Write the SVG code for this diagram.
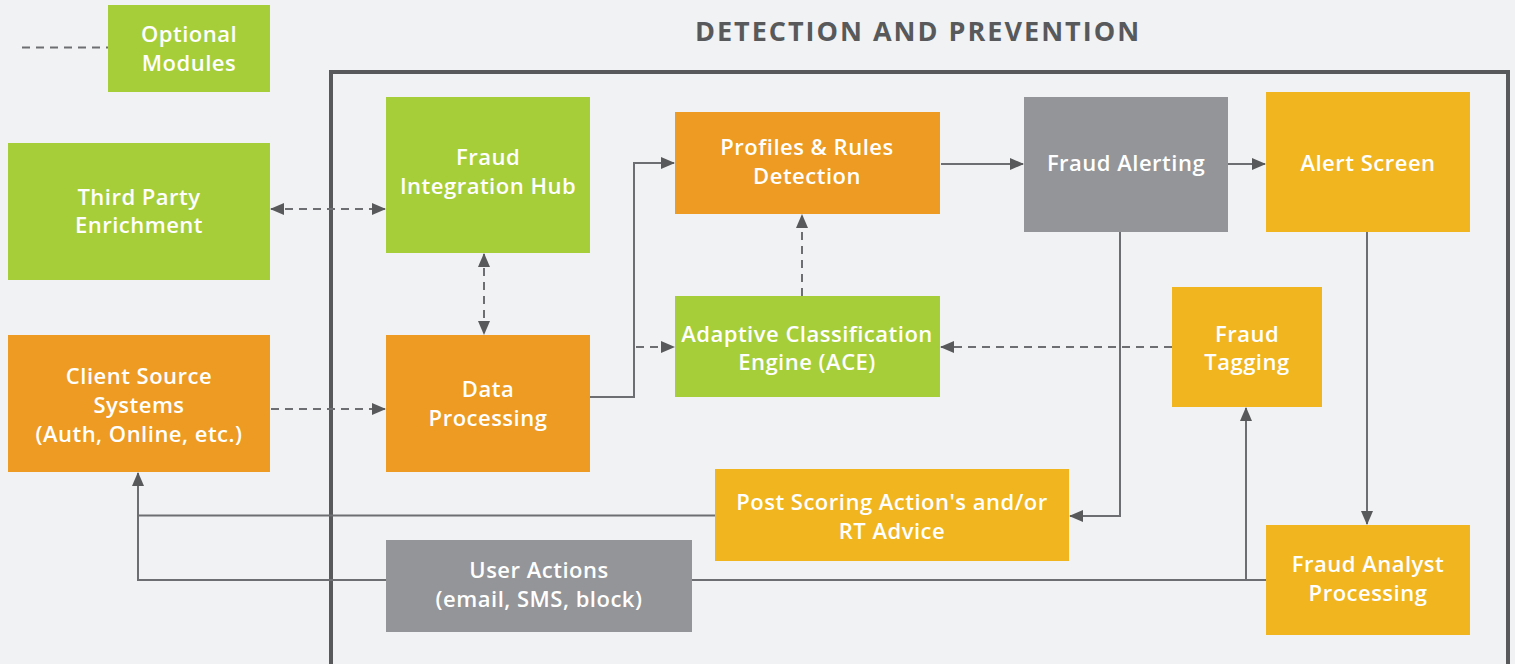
<svg xmlns="http://www.w3.org/2000/svg" width="1515" height="664" viewBox="0 0 1515 664">
<style>
.bg{fill:#f1f2f4}
.g{fill:#a6ce39}
.o{fill:#ed9b22}
.y{fill:#f0b51f}
.gr{fill:#939598}
.t{font-family:"Open Sans","Liberation Sans",sans-serif;font-size:22px;font-weight:600;fill:#ffffff;text-anchor:middle;letter-spacing:0.5px}
.title{font-family:"Open Sans","Liberation Sans",sans-serif;font-size:27px;font-weight:700;fill:#58595b;text-anchor:middle;letter-spacing:2px}
.ln{fill:none;stroke:#6d6e71;stroke-width:2}
.ds{fill:none;stroke:#6d6e71;stroke-width:2;stroke-dasharray:8 6}
.frame{fill:none;stroke:#58595b;stroke-width:4}
</style>
<defs>
<marker id="ah" viewBox="0 0 14 12" refX="13" refY="6" markerWidth="14" markerHeight="12" markerUnits="userSpaceOnUse" orient="auto-start-reverse">
<path d="M0,0 L14,6 L0,12 Z" fill="#58595b"/>
</marker>
</defs>
<rect class="bg" x="0" y="0" width="1515" height="664"/>
<text class="title" x="918" y="41">DETECTION AND PREVENTION</text>
<rect class="frame" x="331" y="72" width="1177" height="620"/>
<g id="connectors">
<line class="ds" x1="22" y1="47.5" x2="108" y2="47.5"/>
<line class="ds" x1="271" y1="209" x2="385" y2="209" marker-start="url(#ah)" marker-end="url(#ah)"/>
<line class="ds" x1="484" y1="254" x2="484" y2="334" marker-start="url(#ah)" marker-end="url(#ah)"/>
<line class="ds" x1="271" y1="409" x2="385" y2="409" marker-end="url(#ah)"/>
<polyline class="ln" points="590,397 634,397 634,163 674,163" marker-end="url(#ah)"/>
<line class="ds" x1="636" y1="347" x2="674" y2="347" marker-end="url(#ah)"/>
<line class="ds" x1="802" y1="296" x2="802" y2="215" marker-end="url(#ah)"/>
<line class="ln" x1="941" y1="164" x2="1023" y2="164" marker-end="url(#ah)"/>
<line class="ln" x1="1228" y1="164" x2="1265" y2="164" marker-end="url(#ah)"/>
<line class="ds" x1="1172" y1="347" x2="941" y2="347" marker-end="url(#ah)"/>
<polyline class="ln" points="1120,232 1120,516 1070,516" marker-end="url(#ah)"/>
<line class="ln" x1="1367" y1="232" x2="1367" y2="524" marker-end="url(#ah)"/>
<polyline class="ln" points="1266,580 1246,580 1246,408" marker-end="url(#ah)"/>
<polyline class="ln" points="1246,580 138,580 138,473" marker-end="url(#ah)"/>
<line class="ln" x1="715" y1="515.5" x2="138" y2="515.5"/>
</g>
<g id="optional-modules">
<rect class="g" x="108" y="5" width="162" height="87"/>
<text class="t" x="189" y="42">Optional</text>
<text class="t" x="189" y="71">Modules</text>
</g>
<g id="third-party">
<rect class="g" x="8" y="143" width="262" height="137"/>
<text class="t" x="139" y="205">Third Party</text>
<text class="t" x="139" y="233">Enrichment</text>
</g>
<g id="integration-hub">
<rect class="g" x="386" y="97" width="204" height="156"/>
<text class="t" x="488" y="165">Fraud</text>
<text class="t" x="488" y="194">Integration Hub</text>
</g>
<g id="client-source">
<rect class="o" x="8" y="335" width="262" height="137"/>
<text class="t" x="139" y="384">Client Source</text>
<text class="t" x="139" y="413">Systems</text>
<text class="t" x="139" y="442">(Auth, Online, etc.)</text>
</g>
<g id="data-processing">
<rect class="o" x="386" y="335" width="204" height="137"/>
<text class="t" x="488" y="397">Data</text>
<text class="t" x="488" y="426">Processing</text>
</g>
<g id="profiles-rules">
<rect class="o" x="675" y="112" width="265" height="102"/>
<text class="t" x="807" y="155">Profiles &amp; Rules</text>
<text class="t" x="807" y="184">Detection</text>
</g>
<g id="ace">
<rect class="g" x="675" y="296" width="265" height="101"/>
<text class="t" x="807" y="342">Adaptive Classification</text>
<text class="t" x="807" y="370">Engine (ACE)</text>
</g>
<g id="fraud-alerting">
<rect class="gr" x="1024" y="97" width="204" height="135"/>
<text class="t" x="1126" y="171">Fraud Alerting</text>
</g>
<g id="alert-screen">
<rect class="y" x="1266" y="92" width="204" height="140"/>
<text class="t" x="1368" y="171">Alert Screen</text>
</g>
<g id="fraud-tagging">
<rect class="y" x="1172" y="287" width="150" height="120"/>
<text class="t" x="1247" y="342">Fraud</text>
<text class="t" x="1247" y="370">Tagging</text>
</g>
<g id="post-scoring">
<rect class="y" x="715" y="469" width="354" height="92"/>
<text class="t" x="892" y="510">Post Scoring Action's and/or</text>
<text class="t" x="892" y="539">RT Advice</text>
</g>
<g id="user-actions">
<rect class="gr" x="386" y="540" width="306" height="92"/>
<text class="t" x="539" y="578">User Actions</text>
<text class="t" x="539" y="607">(email, SMS, block)</text>
</g>
<g id="fraud-analyst">
<rect class="y" x="1266" y="525" width="204" height="110"/>
<text class="t" x="1368" y="572">Fraud Analyst</text>
<text class="t" x="1368" y="601">Processing</text>
</g>
</svg>
